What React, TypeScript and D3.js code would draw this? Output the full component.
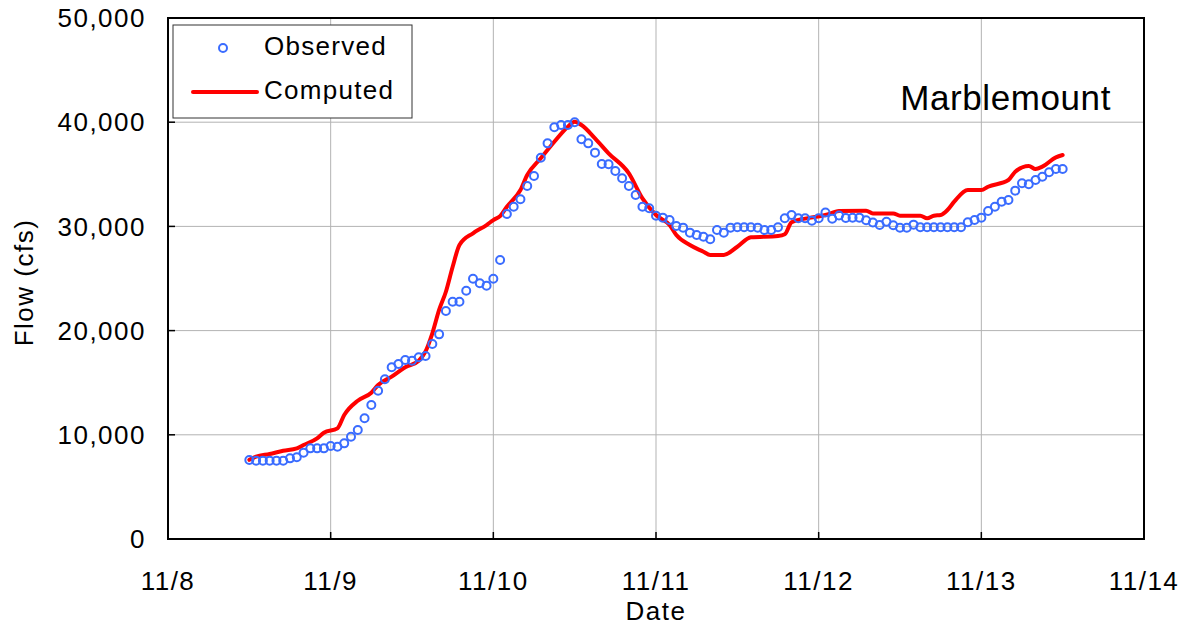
import * as d3 from "d3";
import React from "react";

// observed flow, hourly from 11/8 12:00
const obsStartHour = 12;
const obsFlow = [
  7580, 7520, 7520, 7520, 7520, 7520, 7740, 7840, 8280, 8700,
  8700, 8700, 8930, 8860, 9180, 9820, 10460, 11580, 12860, 14230,
  15330, 16480, 16790, 17180, 17110, 17440, 17560, 18710, 19640, 21880,
  22770, 22770, 23830, 24980, 24540, 24310, 24980, 26780, 31190, 31890,
  32600, 33880, 34840, 36590, 37970, 39510, 39730, 39730, 39990, 38360,
  37970, 37080, 35990, 35960, 35320, 34620, 33880, 33010, 31890, 31740,
  31030, 30840, 30610, 30040, 29880, 29400, 29170, 29010, 28760, 29650,
  29400, 29880, 29910, 29910, 29910, 29880, 29650, 29650, 29910, 30780,
  31100, 30780, 30780, 30550, 30780, 31330, 30730, 31050, 30810, 30830,
  30840, 30590, 30370, 30130, 30450, 30110, 29870, 29870, 30170, 29910,
  29910, 29910, 29910, 29910, 29910, 29910, 30390, 30610, 30840, 31480,
  31890, 32370, 32530, 33430, 34140, 34040, 34450, 34770, 35190, 35510,
  35510,
];

// computed flow: [hours since 11/8 00:00, cfs]
const computedHours = [
  12, 13, 15, 17, 19, 20, 22, 23, 25, 26, 28, 30, 31, 33, 35, 37, 38, 39, 40,
  41, 42, 43, 45, 47, 48, 49, 50, 52, 53, 55, 57, 59, 60, 61, 63, 65, 68, 70,
  72, 74, 75, 77, 79, 80, 82, 84, 86, 90, 91, 92, 94, 97, 99, 103, 104, 107,
  108, 111, 112, 113, 114, 115, 116, 118, 120, 121, 124, 125, 127, 128, 129,
  131, 132,
];
const computedFlow = [
  7600, 7900, 8160, 8470, 8700, 9020, 9660, 10200, 10620, 11900, 13270, 14040,
  14780, 15580, 16480, 17110, 18000, 19740, 21980, 23730, 26130, 28210, 29340,
  30130, 30610, 30990, 31890, 33490, 34930, 36540, 38130, 39570, 40050, 39730,
  38450, 37010, 35090, 32690, 31090, 30130, 29170, 28210, 27570, 27260, 27260,
  28050, 28950, 29080, 29240, 30400, 30750, 31090, 31480, 31510, 31250, 31250,
  31030, 31030, 30780, 31030, 31090, 31570, 32370, 33490, 33490, 33810, 34450,
  35250, 35800, 35510, 35730, 36630, 36850,
];

const yTickValues = [0, 10000, 20000, 30000, 40000, 50000];
const xTickDays = [8, 9, 10, 11, 12, 13, 14];
const stationName = "Marblemount";

const hourToDate = (h: number) => new Date(Date.UTC(2006, 10, 8, h));

export default function App() {
  const width = 1193;
  const height = 635;
  const left = 168;
  const right = 1144;
  const top = 18;
  const bottom = 539;

  const x = d3.scaleUtc(
    [new Date(Date.UTC(2006, 10, 8)), new Date(Date.UTC(2006, 10, 14))],
    [left, right]
  );
  const y = d3.scaleLinear([0, 50000], [bottom, top]);
  const fmt = d3.format(",");

  const observed = obsFlow.map((v, i) => ({ t: hourToDate(obsStartHour + i), v }));
  const computed = computedHours.map((h, i) => ({ t: hourToDate(h), v: computedFlow[i] }));

  const line = d3
    .line<{ t: Date; v: number }>()
    .curve(d3.curveMonotoneX)
    .x((d) => x(d.t))
    .y((d) => y(d.v));

  const blue = "#3a6cff";
  const font = "'Liberation Sans', Arial, sans-serif";
  const ls = 1.5;

  return (
    <svg
      width={width}
      height={height}
      style={{ position: "absolute", left: 0, top: 0, background: "#fff" }}
      fontFamily={font}
    >
      {/* grid */}
      <g stroke="#b3b3b3" strokeWidth={1}>
        {yTickValues.map((v) => (
          <line key={v} x1={left} x2={right} y1={y(v)} y2={y(v)} />
        ))}
        {xTickDays.map((d) => {
          const px = x(new Date(Date.UTC(2006, 10, d)));
          return <line key={d} x1={px} x2={px} y1={top} y2={bottom} />;
        })}
      </g>

      {/* inner tick marks */}
      <g stroke="#000" strokeWidth={1.5}>
        {yTickValues.map((v) => (
          <line key={v} x1={left} x2={left + 7} y1={y(v)} y2={y(v)} />
        ))}
        {xTickDays.map((d) => {
          const px = x(new Date(Date.UTC(2006, 10, d)));
          return <line key={d} x1={px} x2={px} y1={bottom} y2={bottom - 7} />;
        })}
      </g>

      {/* computed */}
      <path
        d={line(computed) ?? ""}
        fill="none"
        stroke="#ff0000"
        strokeWidth={4}
        strokeLinejoin="round"
        strokeLinecap="round"
      />

      {/* observed */}
      <g fill="none" stroke={blue} strokeWidth={2}>
        {observed.map((d, i) => (
          <circle key={i} cx={x(d.t)} cy={y(d.v)} r={4} />
        ))}
      </g>

      {/* frame */}
      <rect
        x={left}
        y={top}
        width={right - left}
        height={bottom - top}
        fill="none"
        stroke="#000"
        strokeWidth={2}
      />

      {/* y tick labels */}
      <g fontSize={26} textAnchor="end" fill="#000" letterSpacing={ls}>
        {yTickValues.map((v) => (
          <text key={v} x={left - 22} y={y(v)} dy="0.35em">
            {fmt(v)}
          </text>
        ))}
      </g>

      {/* x tick labels */}
      <g fontSize={26} textAnchor="middle" fill="#000" letterSpacing={ls}>
        {xTickDays.map((d) => (
          <text key={d} x={x(new Date(Date.UTC(2006, 10, d)))} y={590}>
            {`11/${d}`}
          </text>
        ))}
      </g>

      <text x={(left + right) / 2} y={620} fontSize={26} textAnchor="middle" letterSpacing={ls}>
        Date
      </text>
      <text
        transform={`translate(33,${(top + bottom) / 2 + 4}) rotate(-90)`}
        fontSize={26}
        textAnchor="middle"
        letterSpacing={ls}
      >
        Flow (cfs)
      </text>

      <text x={1111} y={110} fontSize={35} textAnchor="end" letterSpacing={0.6}>
        {stationName}
      </text>

      {/* legend */}
      <g>
        <rect x={173} y={25} width={239} height={93} fill="#fff" stroke="#333" strokeWidth={1} />
        <circle cx={223} cy={48} r={4} fill="none" stroke={blue} strokeWidth={2} />
        <line x1={193} x2={257} y1={92} y2={92} stroke="#ff0000" strokeWidth={4} strokeLinecap="round" />
        <text x={264} y={55} fontSize={26} letterSpacing={1.3}>
          Observed
        </text>
        <text x={264} y={99} fontSize={26} letterSpacing={1.3}>
          Computed
        </text>
      </g>
    </svg>
  );
}
